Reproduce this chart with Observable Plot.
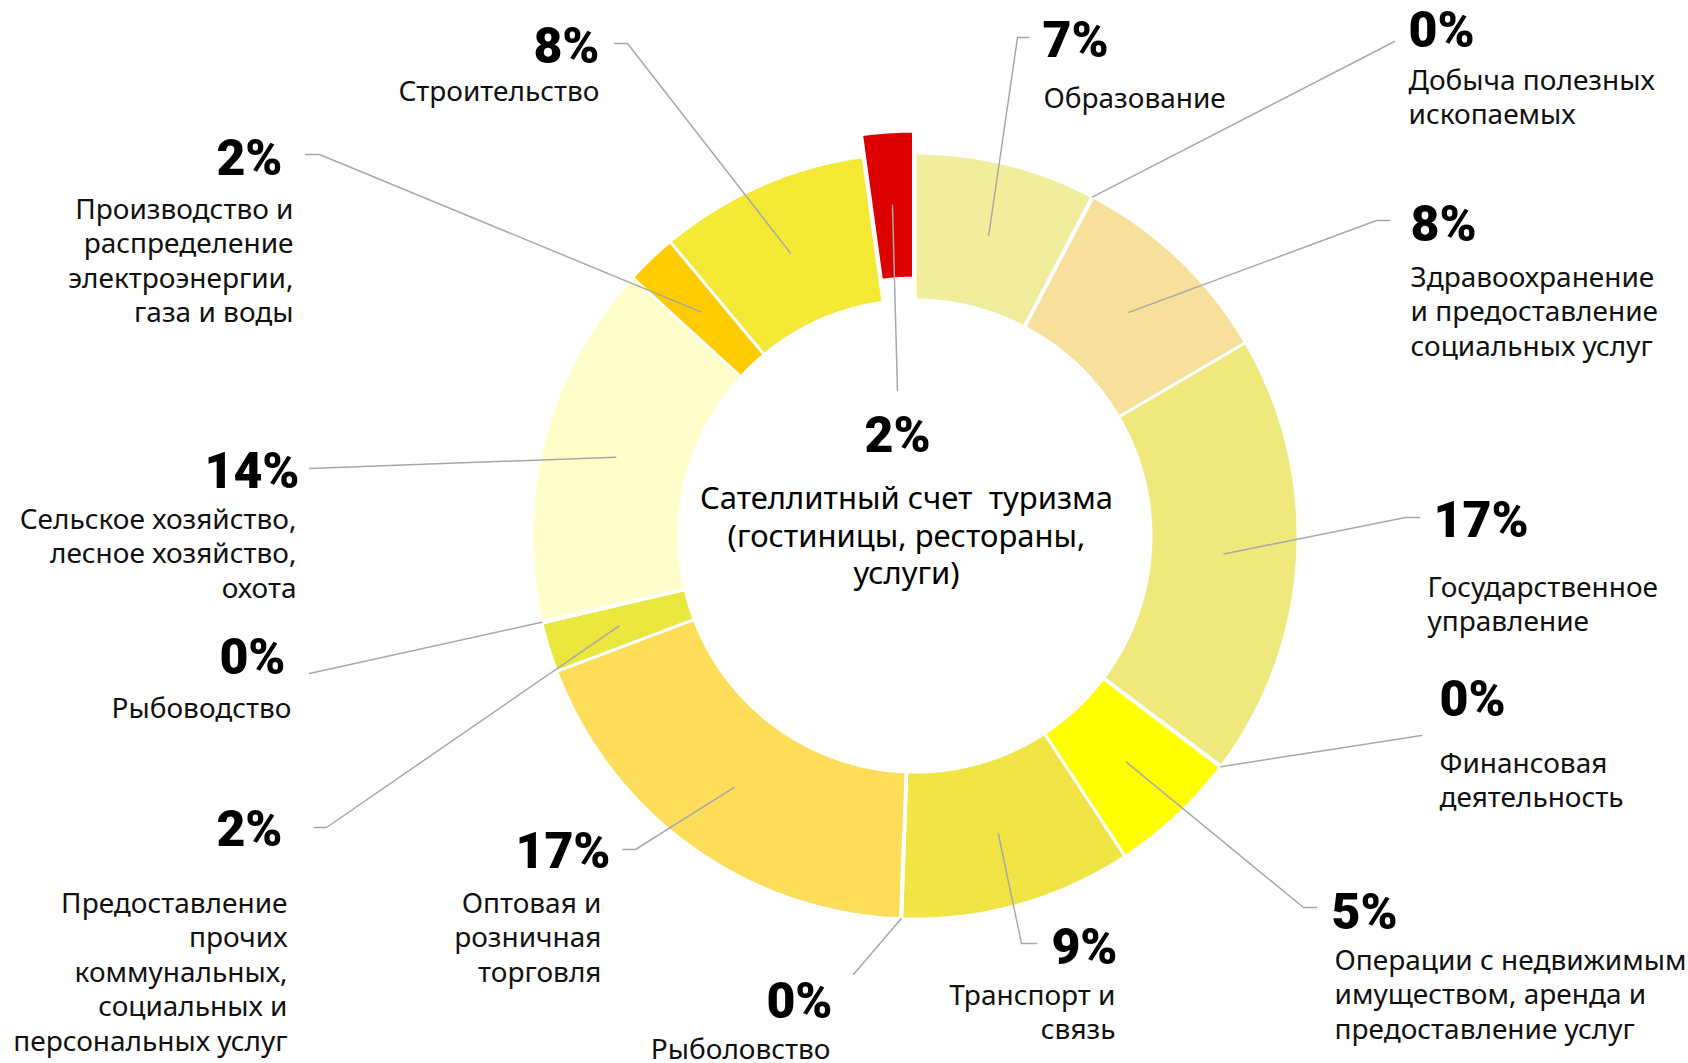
<!DOCTYPE html>
<html><head><meta charset="utf-8">
<script src="https://cdn.jsdelivr.net/npm/d3@7"></script>
<script src="https://cdn.jsdelivr.net/npm/@observablehq/plot@0.6"></script>
<style>
html,body{margin:0;padding:0;background:#fff;}
.pre text, text.pre, .pre tspan{white-space:pre;}
</style></head><body><div id="chart"></div>
<script>
// ---- data (clockwise from 12 o'clock) ----
const sectors = ["Образование","Добыча полезных ископаемых","Здравоохранение","Государственное управление","Финансовая деятельность","Операции с недвижимым имуществом","Транспорт и связь","Рыболовство","Оптовая и розничная торговля","Предоставление прочих услуг","Рыбоводство","Сельское хозяйство","Производство и распределение","Строительство","Сателлитный счет туризма"];
const shares = [7.67, 0.05, 8.89, 18.72, 0.05, 5.47, 9.81, 0.05, 18.69, 2.11, 0.05, 15.42, 2.17, 8.89, 2.17];
const pctLabels = ["7%","0%","8%","17%","0%","5%","9%","0%","17%","2%","0%","14%","2%","8%","2%"];
const descLabels = [
  "Образование",
  "Добыча полезных\nископаемых",
  "Здравоохранение\nи предоставление\nсоциальных услуг",
  "Государственное\nуправление",
  "Финансовая\nдеятельность",
  "Операции с недвижимым\nимуществом, аренда и\nпредоставление услуг",
  "Транспорт и\nсвязь",
  "Рыболовство",
  "Оптовая и\nрозничная\nторговля",
  "Предоставление\nпрочих\nкоммунальных,\nсоциальных и\nперсональных услуг",
  "Рыбоводство",
  "Сельское хозяйство,\nлесное хозяйство,\nохота",
  "Производство и\nраспределение\nэлектроэнергии,\nгаза и воды",
  "Строительство",
  "Сателлитный счет  туризма\n(гостиницы, рестораны,\nуслуги)"
];
const colors = ["#F0EE9C","#FFFFFF","#F6E09B","#EEE87D","#FFFFFF","#FFFF00","#F0E545","#FFFFFF","#FDDD5A","#EAE73E","#FFFFFF","#FFFDC9","#FFCC00","#F4E934","#DC0000"];
const highlighted = 14; // exploded slice

// ---- layout ----
const W = 1688, H = 1063;
const cx = 914.5, cy = 535.6, R = 383, r0 = 236, explode = 22;
// label layout: anchor, pct position, description position, leader elbow points
const layout = [
  {a:"start",  px:1042, py:40,   dx:1043, dy:83,  pts:[[1017,37],[1028,37]]},
  {a:"start",  px:1408, py:30.5, dx:1408, dy:65,  pts:[[1394,41]]},
  {a:"start",  px:1410, py:224.5,dx:1410, dy:262, pts:[[1376,220],[1389,220]]},
  {a:"start",  px:1433, py:520,  dx:1427, dy:572, pts:[[1405,517],[1419,517]]},
  {a:"start",  px:1439, py:699,  dx:1439, dy:748, pts:[[1421,735]]},
  {a:"start",  px:1331, py:912,  dx:1334, dy:945, pts:[[1303,907],[1316,907]]},
  {a:"end",    px:1117, py:947,  dx:1115, dy:980, pts:[[1021,943],[1036,943]]},
  {a:"end",    px:832,  py:1001, dx:830,  dy:1034,pts:[[853,974]]},
  {a:"end",    px:610,  py:851,  dx:601,  dy:888, pts:[[635,849],[622,849]]},
  {a:"end",    px:282,  py:829,  dx:287,  dy:888, pts:[[326,827],[314,827]]},
  {a:"end",    px:285,  py:657.5,dx:291,  dy:693, pts:[[309,673]]},
  {a:"end",    px:299,  py:471,  dx:296,  dy:504, pts:[[309,468]]},
  {a:"end",    px:282,  py:158.5,dx:293,  dy:194, pts:[[319,154],[305,154]]},
  {a:"end",    px:599,  py:46,   dx:599,  dy:76,  pts:[[627,43],[614,43]]},
  {a:"middle", px:897,  py:435,  dx:906,  dy:482, pts:[[897,390]]}
];

// ---- build geometry from data ----
const arcs = d3.pie().sort(null).value(d => d)(shares);
const polar = (r, t, off) => [cx + (r + off) * Math.sin(t), cy - (r + off) * Math.cos(t)];
const slicePts = [];
arcs.forEach((a, i) => {
  const mid = (a.startAngle + a.endAngle) / 2;
  const ox = i === highlighted ? explode * Math.sin(mid) : 0;
  const oy = i === highlighted ? -explode * Math.cos(mid) : 0;
  const n = Math.max(2, Math.ceil((a.endAngle - a.startAngle) / 0.008));
  const ring = [];
  for (let k = 0; k <= n; k++) ring.push([R, a.startAngle + (a.endAngle - a.startAngle) * k / n]);
  for (let k = n; k >= 0; k--) ring.push([r0, a.startAngle + (a.endAngle - a.startAngle) * k / n]);
  ring.forEach(([r, t]) => {
    const [x, y] = polar(r, t, 0);
    slicePts.push({key: sectors[i], x: x + ox, y: y + oy, fill: colors[i]});
  });
});

const leaderPts = [];
arcs.forEach((a, i) => {
  const mid = (a.startAngle + a.endAngle) / 2;
  const zero = shares[i] < 0.5;
  const r = zero ? R : (R + r0) / 2;
  const [x0, y0] = polar(r, mid, i === highlighted ? explode : 0);
  leaderPts.push({key: sectors[i], x: x0, y: y0});
  layout[i].pts.forEach(([x, y]) => leaderPts.push({key: sectors[i], x, y}));
});

const labels = layout.map((l, i) => ({...l, pct: pctLabels[i], desc: descLabels[i], i}));
const font = "'Noto Sans', 'Open Sans', sans-serif";
const pctFont = "Roboto, 'Noto Sans', sans-serif";

const pctMark = (anchor) => Plot.text(labels.filter(d => d.a === anchor), {
  x: "px", y: "py", text: "pct", textAnchor: anchor, lineAnchor: "middle",
  fontSize: 50, fontWeight: 900, fontFamily: pctFont, fill: "#000"
});
const descMark = (anchor) => Plot.text(labels.filter(d => d.a === anchor && d.i !== highlighted), {
  x: "dx", y: "dy", text: "desc", textAnchor: anchor, lineAnchor: "top",
  fontSize: 28, lineHeight: 1.23, fontFamily: font, fill: "#111"
});

const chart = Plot.plot({
  width: W, height: H, margin: 0,
  x: {domain: [0, W], range: [0, W], axis: null},
  y: {domain: [0, H], range: [0, H], axis: null},
  color: {type: "identity"},
  style: {background: "#fff", overflow: "visible"},
  marks: [
    Plot.line(slicePts, {x: "x", y: "y", z: "key", fill: "fill", stroke: "#fff", strokeWidth: 3, curve: "linear-closed"}),
    Plot.line(leaderPts, {x: "x", y: "y", z: "key", stroke: "#a8a8a8", strokeWidth: 1.5}),
    pctMark("start"), pctMark("end"), pctMark("middle"),
    descMark("start"), descMark("end"),
    Plot.text(labels.filter(d => d.i === highlighted), {
      x: "dx", y: "dy", text: "desc", textAnchor: "middle", lineAnchor: "top",
      fontSize: 31, lineHeight: 1.21, fontFamily: font, fill: "#000", className: "pre"
    })
  ]
});
document.getElementById("chart").appendChild(chart);
</script></body></html>
